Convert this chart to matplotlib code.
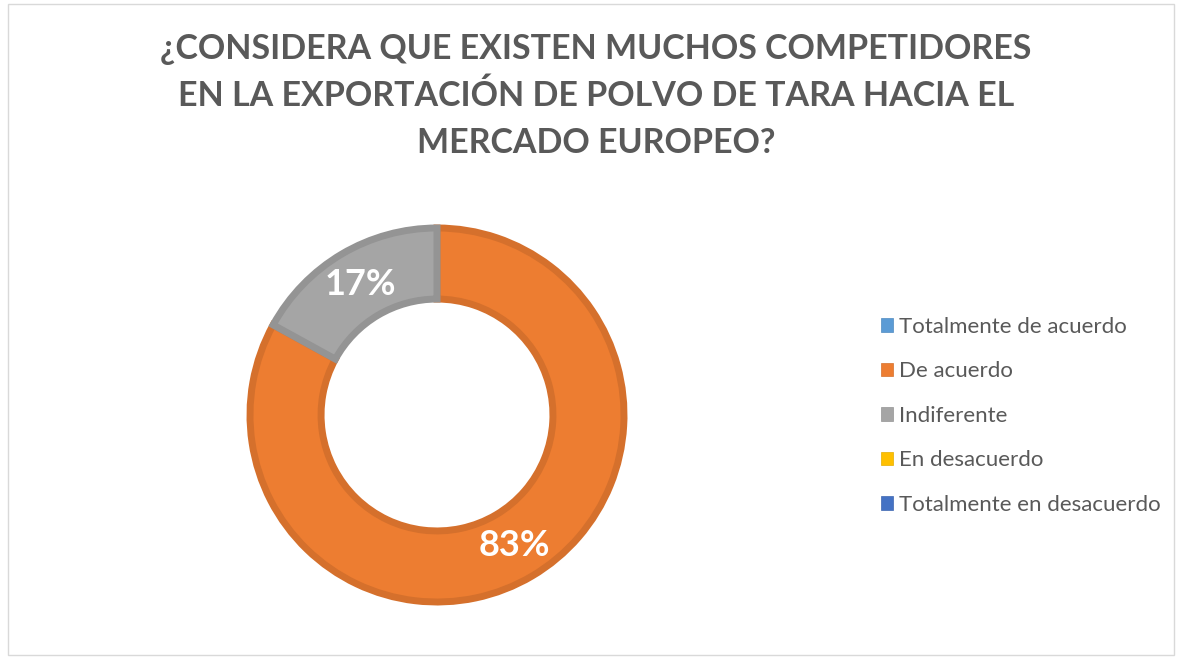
import matplotlib
matplotlib.use('Agg')
import matplotlib.pyplot as plt
from matplotlib.patches import Rectangle, Patch

# datos
categorias = ['Totalmente de acuerdo', 'De acuerdo', 'Indiferente', 'En desacuerdo', 'Totalmente en desacuerdo']
porcentajes = [0, 83, 17, 0, 0]
colores = ['#5B9BD5', '#ED7D31', '#A5A5A5', '#FFC000', '#4472C4']
bordes = ['#4F8AC0', '#D5702C', '#949494', '#E5AD00', '#3D66B0']
titulo = '¿CONSIDERA QUE EXISTEN MUCHOS COMPETIDORES\nEN LA EXPORTACIÓN DE POLVO DE TARA HACIA EL\nMERCADO EUROPEO?'

plt.rcParams['font.family'] = ['Lato', 'DejaVu Sans']

W, H = 1183, 657
fig = plt.figure(figsize=(W / 100, H / 100), dpi=100)
fig.patch.set_facecolor('white')

# borde del area del grafico
fig.add_artist(Rectangle((8 / W, 2 / H), 1166 / W, 651 / H, transform=fig.transFigure,
                         fill=False, edgecolor='#D9D9D9', linewidth=1))

# dona
cx, cy, r = 437, 415, 187
half = 200
ax = fig.add_axes([(cx - half) / W, (H - cy - half) / H, 2 * half / W, 2 * half / H])


def etiqueta(p):
    return f'{p:.0f}%' if p > 0.5 else ''


wedges, textos, autotextos = ax.pie(
    porcentajes, colors=colores, startangle=90, counterclock=False,
    radius=1.0, autopct=etiqueta, pctdistance=0.81,
    wedgeprops=dict(width=0.38, linewidth=5),
    textprops=dict(color='white', fontsize=26, fontweight='bold'))
for w, b, v in zip(wedges, bordes, porcentajes):
    w.set_edgecolor(b)
    if v == 0:
        w.set_visible(False)

lim = half / r
ax.set_xlim(-lim, lim)
ax.set_ylim(-lim, lim)
ax.set_aspect('equal')
ax.axis('off')

fig.text(596 / W, 1 - 96 / H, titulo, ha='center', va='center', fontsize=24.5,
         fontweight='bold', color='#595959', linespacing=1.57)

handles = [Patch(facecolor=c, edgecolor=b, linewidth=0.5) for c, b in zip(colores, bordes)]
fig.legend(handles, categorias, loc='upper left', bbox_to_anchor=(861 / W, 1 - 297 / H),
           frameon=False, fontsize=16, labelcolor='#595959', handlelength=0.55,
           handleheight=0.55, handletextpad=0.25, labelspacing=1.1)

fig.savefig('out.png', dpi=100, facecolor='white')
